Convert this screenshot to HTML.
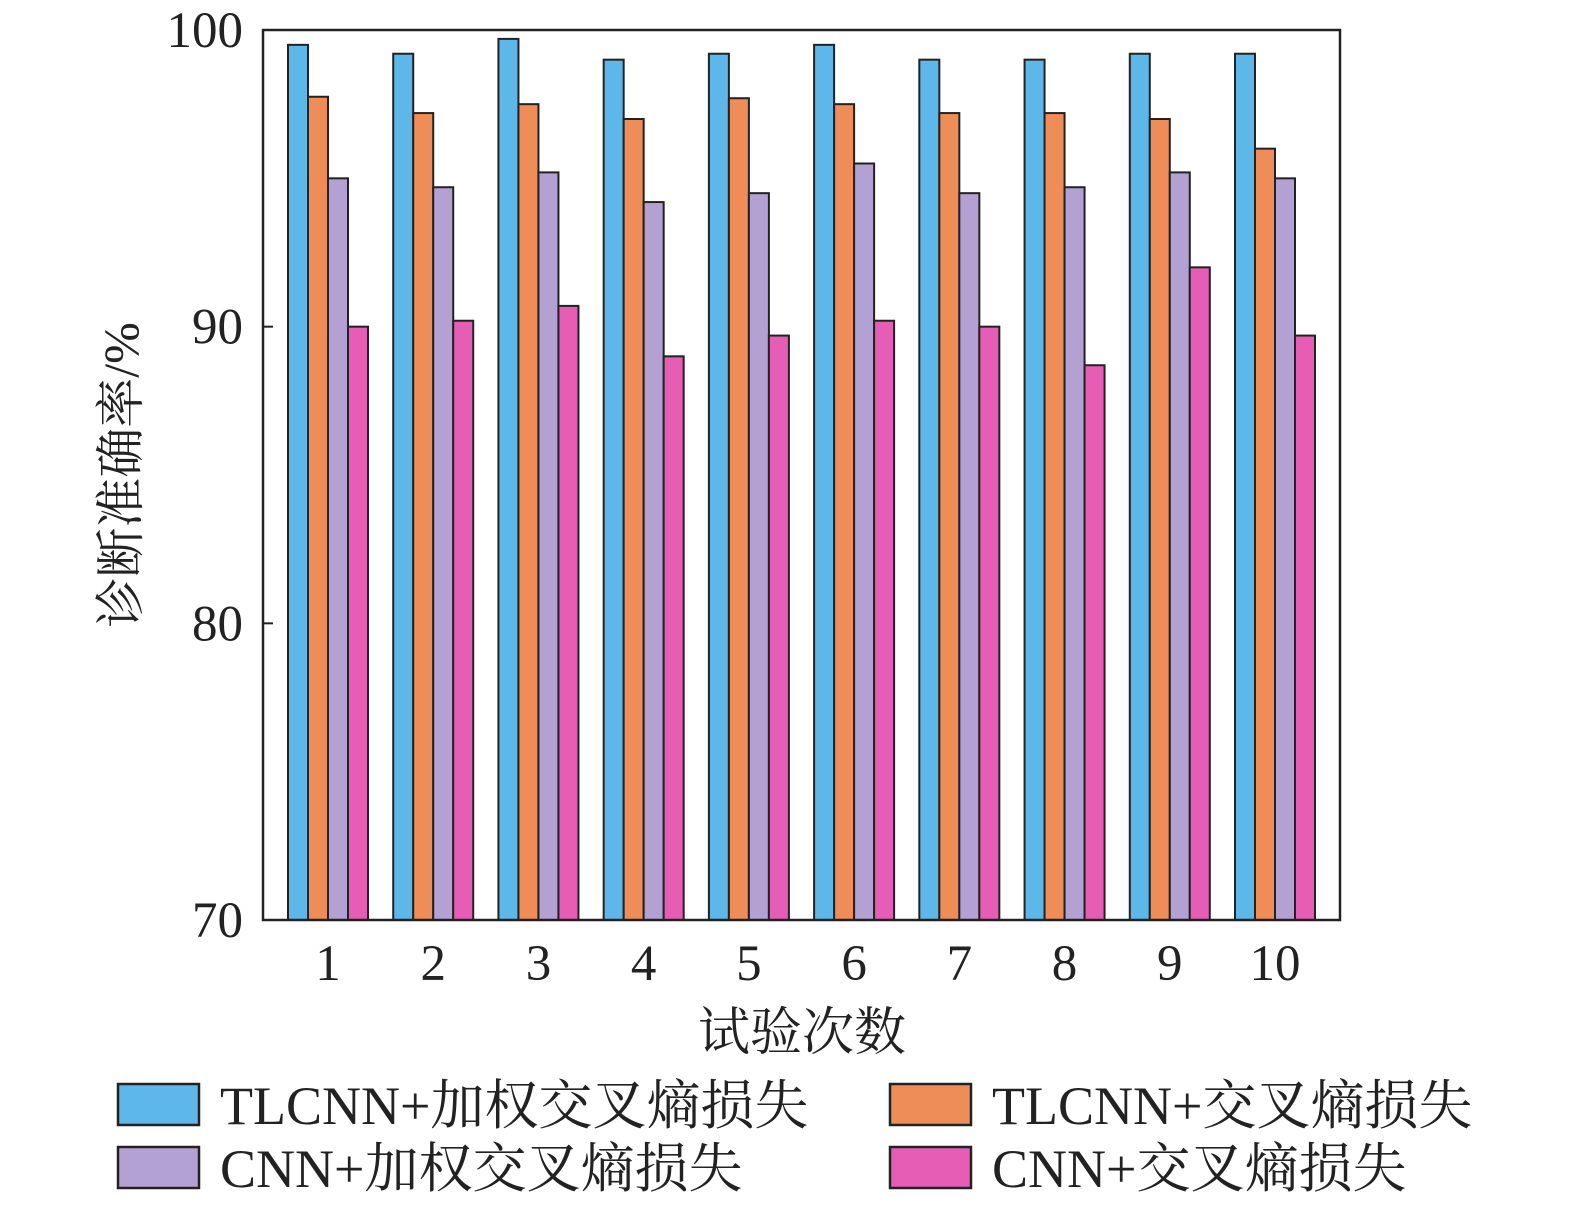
<!DOCTYPE html>
<html><head><meta charset="utf-8"><style>
html,body{margin:0;padding:0;background:#fff;}
svg{display:block;font-family:"Liberation Serif","Noto Serif CJK SC",serif;}
</style></head><body>
<svg id="chart" width="1575" height="1209" viewBox="0 0 1575 1209" xmlns="http://www.w3.org/2000/svg">
<g id="marks"></g>
<rect x="263" y="30" width="1077" height="890" fill="none" stroke="#222" stroke-width="2.5"/>
<g id="axes"></g>
<text x="802" y="1050" font-size="52" text-anchor="middle" fill="#222">试验次数</text>
<text transform="translate(138,475) rotate(-90)" font-size="50" text-anchor="middle" fill="#222">诊断准确率/%</text>
<g id="legend"></g>
</svg>
<script>
const categories=["1","2","3","4","5","6","7","8","9","10"];
const seriesNames=["TLCNN+加权交叉熵损失","TLCNN+交叉熵损失","CNN+加权交叉熵损失","CNN+交叉熵损失"];
const tlcnnWeighted=[99.5,99.2,99.7,99.0,99.2,99.5,99.0,99.0,99.2,99.2];
const tlcnnCE=[97.75,97.2,97.5,97.0,97.7,97.5,97.2,97.2,97.0,96.0];
const cnnWeighted=[95.0,94.7,95.2,94.2,94.5,95.5,94.5,94.7,95.2,95.0];
const cnnCE=[90.0,90.2,90.7,89.0,89.7,90.2,90.0,88.7,92.0,89.7];
const yTicks=[70,80,90,100];
const colors=["#5db8e9","#ee8d58","#b4a1d3","#e65db6"];
const NS="http://www.w3.org/2000/svg";
const x0=263,x1=1340,yTop=30,yBot=920,yMin=70,yMax=100;
const y=v=>yBot-(v-yMin)/(yMax-yMin)*(yBot-yTop);
const margin=65;
const step=(x1-x0-2*margin)/(categories.length-1);
const xc=i=>x0+margin+step*i;
const bw=20;
const series=[tlcnnWeighted,tlcnnCE,cnnWeighted,cnnCE];
const marks=document.getElementById('marks');
series.forEach((s,si)=>{s.forEach((v,i)=>{
 const r=document.createElementNS(NS,'rect');
 
 
 r.setAttribute('x',xc(i)-2*bw+si*bw);r.setAttribute('y',y(v));
 r.setAttribute('width',bw);r.setAttribute('height',yBot-y(v));
 r.setAttribute('fill',colors[si]);r.setAttribute('stroke','#222');r.setAttribute('stroke-width','2');
 marks.appendChild(r);});});
const axes=document.getElementById('axes');
yTicks.forEach(t=>{
 const l=document.createElementNS(NS,'line');
 
 
 l.setAttribute('x1',x0);l.setAttribute('x2',x0+10);l.setAttribute('y1',y(t));l.setAttribute('y2',y(t));
 l.setAttribute('stroke','#222');l.setAttribute('stroke-width','2');axes.appendChild(l);
 const tx=document.createElementNS(NS,'text');
 
 
 tx.setAttribute('x',x0-20);tx.setAttribute('y',y(t)+17);tx.setAttribute('font-size','51');
 tx.setAttribute('text-anchor','end');tx.setAttribute('fill','#222');tx.textContent=t;axes.appendChild(tx);});
categories.forEach((c,i)=>{
 const tx=document.createElementNS(NS,'text');
 
 
 tx.setAttribute('x',xc(i));tx.setAttribute('y',980);tx.setAttribute('font-size','51');
 tx.setAttribute('text-anchor','middle');tx.setAttribute('fill','#222');tx.textContent=c;axes.appendChild(tx);});
const legend=document.getElementById('legend');
const lpos=[[118,1084],[890,1084],[118,1147],[890,1147]];
seriesNames.forEach((n,i)=>{
 const r=document.createElementNS(NS,'rect');
 
 
 r.setAttribute('x',lpos[i][0]);r.setAttribute('y',lpos[i][1]);r.setAttribute('width',81);r.setAttribute('height',41);
 r.setAttribute('fill',colors[i]);r.setAttribute('stroke','#222');r.setAttribute('stroke-width','2.5');legend.appendChild(r);
 const tx=document.createElementNS(NS,'text');
 
 
 tx.setAttribute('x',lpos[i][0]+102);tx.setAttribute('y',lpos[i][1]+40);tx.setAttribute('font-size','54');
 tx.setAttribute('fill','#222');tx.textContent=n;legend.appendChild(tx);});
</script>
</body></html>
